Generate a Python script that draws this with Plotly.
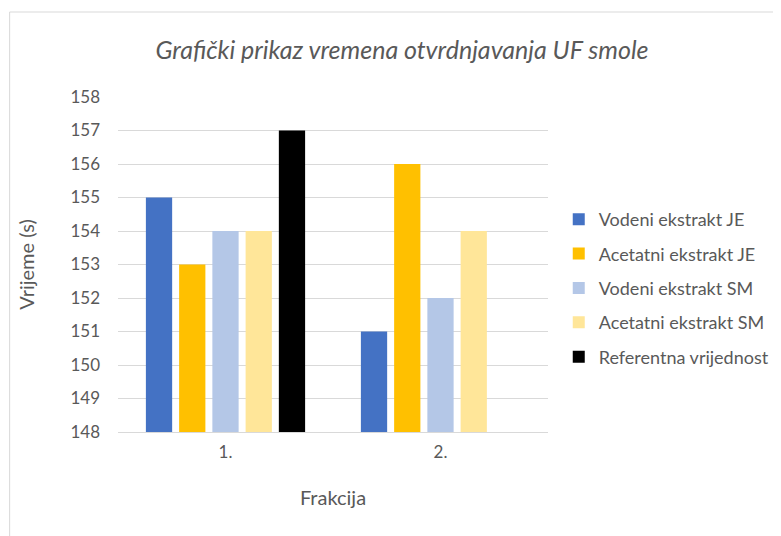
import plotly.graph_objects as go

categories = ["1.", "2."]
series_names = [
    "Vodeni ekstrakt JE",
    "Acetatni ekstrakt JE",
    "Vodeni ekstrakt SM",
    "Acetatni ekstrakt SM",
    "Referentna vrijednost",
]
vodeni_je = [155, 151]
acetatni_je = [153, 156]
vodeni_sm = [154, 152]
acetatni_sm = [154, 154]
referentna = [157, None]
y_ticks = list(range(148, 159))

colors = ["#4472C4", "#FFC000", "#B4C7E7", "#FFE699", "#000000"]
values = [vodeni_je, acetatni_je, vodeni_sm, acetatni_sm, referentna]

FONT = "Lato, 'Open Sans', sans-serif"
GREY = "#595959"

fig = go.Figure()
for name, vals, col in zip(series_names, values, colors):
    fig.add_trace(
        go.Bar(
            x=categories,
            y=vals,
            name=name,
            marker=dict(color=col, line=dict(width=0)),
            legendgroup=name,
        )
    )

# page body adds an 8px offset, so the layout is shifted up/left by 8px
fig.update_layout(
    width=781,
    height=536,
    barmode="group",
    bargap=0.227,
    bargroupgap=0.21,
    paper_bgcolor="white",
    plot_bgcolor="white",
    margin=dict(l=110, r=241, t=89, b=112, autoexpand=False),
    font=dict(family=FONT, color=GREY, size=16),
    title=dict(
        text="<i>Grafički prikaz vremena otvrdnjavanja UF smole</i>",
        x=394 / 781,
        xanchor="center",
        y=1 - 42 / 536,
        yanchor="middle",
        font=dict(size=25, color=GREY),
    ),
    legend=dict(
        x=1.025,
        xanchor="left",
        y=0.43,
        yanchor="middle",
        tracegroupgap=8,
        itemwidth=30,
        font=dict(size=18, color=GREY),
        bgcolor="rgba(0,0,0,0)",
    ),
    showlegend=True,
)
fig.update_yaxes(
    range=[148, 158],
    tickvals=y_ticks,
    showgrid=True,
    gridcolor="#D9D9D9",
    gridwidth=1,
    zeroline=False,
    showline=False,
    ticks="",
    ticklabelstandoff=17,
    tickfont=dict(size=17),
    title=dict(text="Vrijeme (s)", font=dict(size=20, color=GREY), standoff=30),
)
fig.update_xaxes(
    showline=True,
    linecolor="#D9D9D9",
    linewidth=1,
    ticks="",
    ticklabelstandoff=5,
    tickfont=dict(size=17),
    title=dict(text="Frakcija", font=dict(size=20, color=GREY), standoff=29),
)
# outer chart border (cropped on right and bottom)
fig.add_shape(
    type="rect",
    xref="paper",
    yref="paper",
    x0=-0.252,
    x1=2.0,
    y0=-1.0,
    y1=1.2537,
    line=dict(color="#D9D9D9", width=1),
    fillcolor="rgba(0,0,0,0)",
    layer="below",
)

fig.write_html("out.html")
